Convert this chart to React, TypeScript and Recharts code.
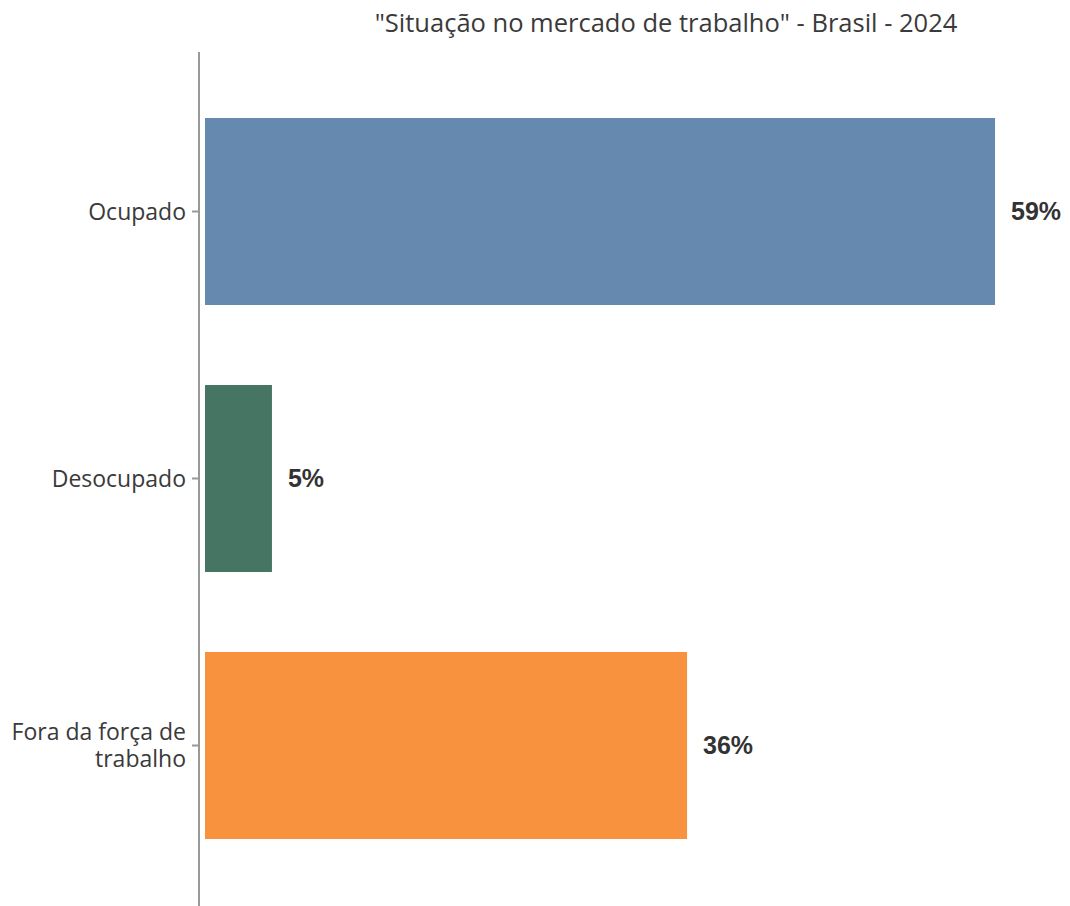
import React from 'react';
import { BarChart, Bar, XAxis, YAxis, Cell, LabelList } from 'recharts';

const categories = ['Ocupado', 'Desocupado', 'Fora da força de trabalho'];
const values = [59, 5, 36];
const valueLabels = ['59%', '5%', '36%'];
const colors = ['#6689B0', '#467563', '#F9923E'];
const tickLabelLines: Record<string, string[]> = {
  'Ocupado': ['Ocupado'],
  'Desocupado': ['Desocupado'],
  'Fora da força de trabalho': ['Fora da força de', 'trabalho'],
};
const title = '"Situação no mercado de trabalho" - Brasil - 2024';

const data = categories.map((c, i) => ({ name: c, value: values[i], label: valueLabels[i] }));

const CategoryTick = (props: any) => {
  const { x, y, payload } = props;
  const lines = tickLabelLines[payload.value] || [payload.value];
  const lh = 27;
  const start = y + 8 - ((lines.length - 1) * lh) / 2;
  return (
    <g>
      {lines.map((l, i) => (
        <text
          key={i}
          x={x - 4}
          y={start + i * lh}
          textAnchor="end"
          fill="#3a3a3a"
          fontSize={23}
          fontFamily="'Open Sans', sans-serif"
        >
          {l}
        </text>
      ))}
    </g>
  );
};

export default function App() {
  return (
    <div style={{ position: 'absolute', left: 0, top: 0, width: 1070, height: 906, background: '#fff' }}>
      <svg width={1070} height={50} style={{ position: 'absolute', left: 0, top: 0 }}>
        <text
          x={666}
          y={32}
          textAnchor="middle"
          fill="#3a3a3a"
          fontSize={25.5}
          fontFamily="'Open Sans', sans-serif"
        >
          {title}
        </text>
      </svg>
      <BarChart
        width={1070}
        height={906}
        data={data}
        layout="vertical"
        margin={{ top: 52, right: 8, bottom: 0, left: 0 }}
        barSize={187}
      >
        <XAxis type="number" domain={[0, 64]} hide padding={{ left: 6, right: 0 }} />
        <YAxis
          type="category"
          dataKey="name"
          width={199}
          padding={{ top: 26, bottom: 27 }}
          axisLine={{ stroke: '#999999', strokeWidth: 2 }}
          tickLine={{ stroke: '#999999', strokeWidth: 2 }}
          tickSize={7}
          tick={<CategoryTick />}
        />
        <Bar dataKey="value" isAnimationActive={false}>
          {data.map((d, i) => (
            <Cell key={d.name} fill={colors[i]} />
          ))}
          <LabelList
            dataKey="label"
            position="right"
            offset={16}
            fill="#333333"
            fontSize={25}
            fontWeight="bold"
            fontFamily="'Liberation Sans', Arial, sans-serif"
          />
        </Bar>
      </BarChart>
    </div>
  );
}
